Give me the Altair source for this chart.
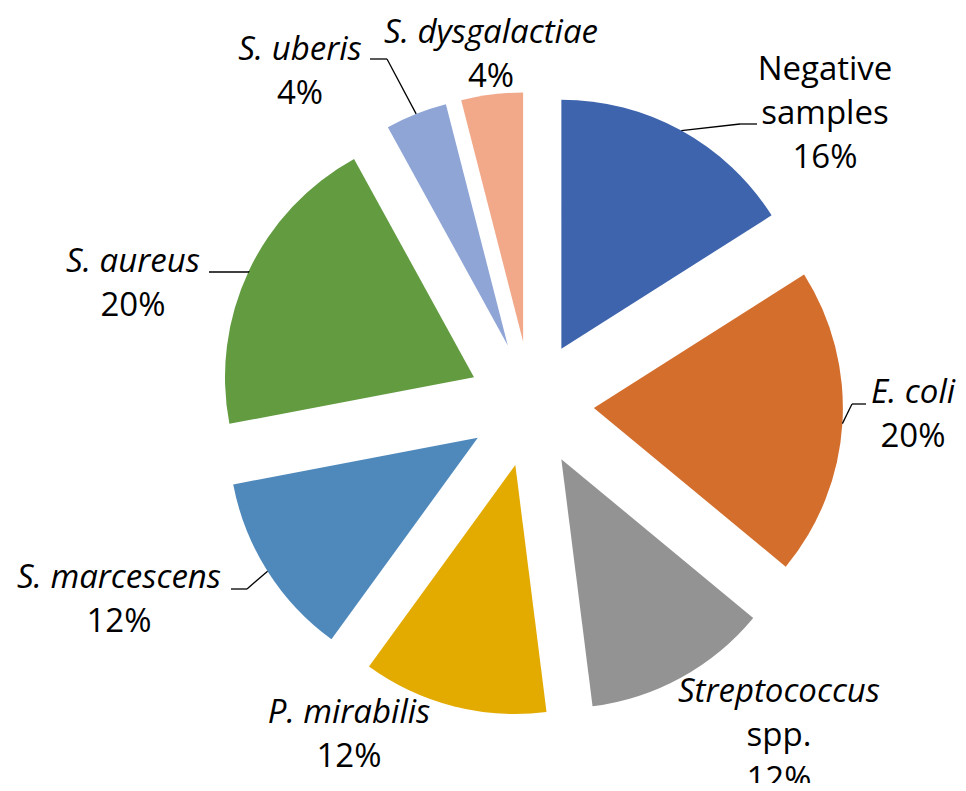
import altair as alt
import pandas as pd

# ---------------- data ----------------
categories = ["Negative samples", "E. coli", "Streptococcus spp.", "P. mirabilis",
              "S. marcescens", "S. aureus", "S. uberis", "S. dysgalactiae"]
percent = [16, 20, 12, 12, 12, 20, 4, 4]
colors = ["#3D64AD", "#D36E2C", "#939393", "#E3AA00",
          "#4F89BC", "#629B40", "#8FA5D6", "#F1A98A"]
# label name lines: (text, italic)
name_lines = [
    [("Negative", False), ("samples", False)],
    [("E. coli", True)],
    [("Streptococcus", True), ("spp.", False)],
    [("P. mirabilis", True)],
    [("S. marcescens", True)],
    [("S. aureus", True)],
    [("S. uberis", True)],
    [("S. dysgalactiae", True)],
]

# ---------------- layout ----------------
CX, CY = 523, 396        # pie centre (px in plot area)
R = 249                  # radius
EXPLODE = 63             # explosion distance
FONT = "Open Sans"
FS = 33
LINE = 44
# label anchors: centre x, centre y of first line
label_anchor = {
    "Negative samples": (817, 62),
    "E. coli": (905, 385),
    "Streptococcus spp.": (771, 684),
    "P. mirabilis": (341, 705),
    "S. marcescens": (111, 570),
    "S. aureus": (125, 254),
    "S. uberis": (292, 42),
    "S. dysgalactiae": (483, 25),
}
# leader lines: elbow (ex, ey) and end (tx, ty)
leader = {
    "Negative samples": (732, 116, 749, 116),
    "E. coli": (844, 396, 858, 396),
    "S. marcescens": (239, 581, 223, 581),
    "S. aureus": (241, 264, 201, 264),
    "S. uberis": (379, 51, 362, 51),
}

pie_df = pd.DataFrame({"category": categories, "value": percent,
                       "order": list(range(len(categories)))})

rows = []
for cat, p, lines in zip(categories, percent, name_lines):
    x0, y0 = label_anchor[cat]
    all_lines = lines + [(f"{p}%", False)]
    for i, (t, it) in enumerate(all_lines):
        rows.append({"category": cat, "text": t, "italic": it,
                     "lx": x0, "ly": y0 + i * LINE})
label_df = pd.DataFrame(rows)

leader_records = [{"category": k, "ex": v[0], "ey": v[1], "tx": v[2], "ty": v[3]}
                  for k, v in leader.items()]
leader_df = pd.DataFrame(leader_records)

base = (
    alt.Chart(pie_df)
    .transform_window(cum="sum(value)", sort=[alt.SortField("order")])
    .transform_joinaggregate(total="sum(value)")
    .transform_calculate(a0="2*PI*(datum.cum-datum.value)/datum.total")
    .transform_calculate(a1="2*PI*datum.cum/datum.total")
    .transform_calculate(mid="(datum.a0+datum.a1)/2")
    .transform_calculate(px=f"{CX}+{EXPLODE}*sin(datum.mid)")
    .transform_calculate(py=f"{CY}-{EXPLODE}*cos(datum.mid)")
)

arcs = base.mark_arc(outerRadius=R, innerRadius=0).encode(
    x=alt.X("px:Q", scale=None),
    y=alt.Y("py:Q", scale=None),
    theta=alt.Theta("a0:Q", scale=None, stack=None),
    theta2="a1:Q",
    color=alt.Color("category:N", scale=alt.Scale(domain=categories, range=colors),
                    legend=None),
)

lead1 = (
    base.transform_lookup(
        lookup="category",
        from_=alt.LookupData(data=alt.InlineData(values=leader_records),
                             key="category", fields=["ex", "ey"]),
    )
    .transform_filter("isValid(datum.ex)")
    .transform_calculate(ax=f"datum.px+{R}*sin(datum.mid)")
    .transform_calculate(ay=f"datum.py-{R}*cos(datum.mid)")
    .mark_rule(color="black", strokeWidth=1.3)
    .encode(x=alt.X("ax:Q", scale=None), y=alt.Y("ay:Q", scale=None),
            x2="ex:Q", y2="ey:Q")
)

lead2 = alt.Chart(leader_df).mark_rule(color="black", strokeWidth=1.3).encode(
    x=alt.X("ex:Q", scale=None), y=alt.Y("ey:Q", scale=None), x2="tx:Q", y2="ty:Q"
)

txt_it = alt.Chart(label_df).transform_filter("datum.italic").mark_text(
    font=FONT, fontSize=FS, fontStyle="italic", align="center", baseline="middle",
    color="black"
).encode(x=alt.X("lx:Q", scale=None), y=alt.Y("ly:Q", scale=None), text="text:N")

txt_rg = alt.Chart(label_df).transform_filter("!datum.italic").mark_text(
    font=FONT, fontSize=FS, align="center", baseline="middle", color="black"
).encode(x=alt.X("lx:Q", scale=None), y=alt.Y("ly:Q", scale=None), text="text:N")

chart = (
    alt.layer(arcs, lead1, lead2, txt_it, txt_rg)
    .properties(width=950, height=775, padding=0,
                autosize=alt.AutoSizeParams(type="none"))
    .configure_view(stroke=None)
)

chart.save("out.html", embed_options={"renderer": "svg", "actions": False})
